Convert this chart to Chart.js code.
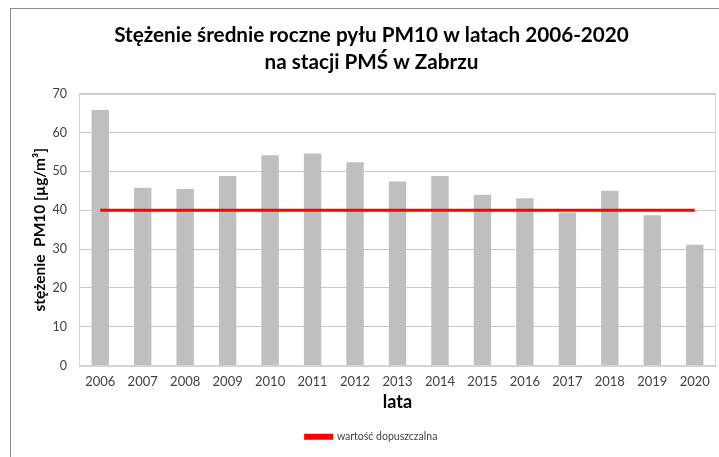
<!DOCTYPE html>
<html>
<head>
<meta charset="utf-8">
<script src="https://cdn.jsdelivr.net/npm/chart.js@4/dist/chart.umd.min.js"></script>
<style>
  body { margin: 0; background: #fff; }
  #wrap { position: relative; width: 719px; height: 457px; }
  #frame { position: absolute; left: 10px; top: 8px; right: -5px; bottom: -5px;
           border-left: 1px solid #8c8c8c; border-top: 1px solid #8c8c8c; pointer-events: none; }
</style>
</head>
<body>
<div id="wrap">
  <canvas id="pmChart" width="719" height="457"></canvas>
  <div id="frame"></div>
</div>
<script>
// Data
const years = ['2006', '2007', '2008', '2009', '2010', '2011', '2012', '2013',
               '2014', '2015', '2016', '2017', '2018', '2019', '2020'];
const pm10Values = [65.8, 45.8, 45.5, 48.8, 54.2, 54.6, 52.4, 47.4,
                    48.8, 44.0, 43.1, 39.4, 45.0, 38.7, 31.1];
const limitValues = [40, 40, 40, 40, 40, 40, 40, 40, 40, 40, 40, 40, 40, 40, 40];

const FONT = 'Lato, Calibri, sans-serif';

// Draw light border around the plot area
const plotFrame = {
    id: 'plotFrame',
    beforeDatasetsDraw(chart) {
        const a = chart.chartArea;
        const ctx = chart.ctx;
        ctx.save();
        ctx.strokeStyle = '#d4d4d4';
        ctx.lineWidth = 1;
        ctx.strokeRect(Math.round(a.left) + 0.5, Math.round(a.top) + 0.5,
                       Math.round(a.right - a.left) - 1, Math.round(a.bottom - a.top));
        ctx.restore();
    }
};

new Chart(document.getElementById('pmChart'), {
    data: {
        labels: years,
        datasets: [{
            type: 'line',
            label: 'wartość dopuszczalna',
            data: limitValues,
            borderColor: '#ff0000',
            backgroundColor: '#ff0000',
            borderWidth: 3,
            pointRadius: 0,
            order: 0
        }, {
            type: 'bar',
            label: 'stężenie',
            data: pm10Values,
            backgroundColor: '#bfbfbf',
            barPercentage: 0.41,
            categoryPercentage: 1,
            order: 1
        }]
    },
    options: {
        responsive: false,
        animation: false,
        layout: { padding: { left: 27, right: 3, top: 22, bottom: 5 } },
        plugins: {
            title: {
                display: true,
                text: ['Stężenie średnie roczne pyłu PM10 w latach 2006-2020', 'na stacji PMŚ w Zabrzu'],
                color: '#000',
                font: { family: FONT, size: 20.7, weight: 'bold', lineHeight: 1.3 },
                padding: { top: 0, bottom: 18 }
            },
            legend: {
                position: 'bottom',
                labels: {
                    color: '#404040',
                    font: { family: FONT, size: 10.5 },
                    boxWidth: 26,
                    boxHeight: 3,
                    padding: 10,
                    filter: item => item.text === 'wartość dopuszczalna'
                }
            },
            tooltip: { enabled: false }
        },
        scales: {
            x: {
                grid: { display: false, drawTicks: false },
                border: { display: true, color: '#d4d4d4' },
                ticks: { color: '#404040', font: { family: FONT, size: 13 }, padding: 9, maxRotation: 0 },
                title: {
                    display: true, text: 'lata', color: '#000',
                    font: { family: FONT, size: 18, weight: 'bold' },
                    padding: { top: 4, bottom: 9 }
                },
                afterFit(scale) { scale.height = 56; }
            },
            y: {
                min: 0, max: 70,
                ticks: { stepSize: 10, color: '#404040', font: { family: FONT, size: 12.5 }, padding: 12 },
                grid: { color: '#c8c8c8', drawTicks: false },
                border: { display: true, color: '#d4d4d4' },
                title: {
                    display: true, text: 'stężenie  PM10 [µg/m³]', color: '#000',
                    font: { family: FONT, size: 15.5, weight: 'bold' },
                    padding: { top: 4, bottom: 0 }
                },
                afterFit(scale) { scale.width = 52; }
            }
        }
    },
    plugins: [plotFrame]
});
</script>
</body>
</html>
